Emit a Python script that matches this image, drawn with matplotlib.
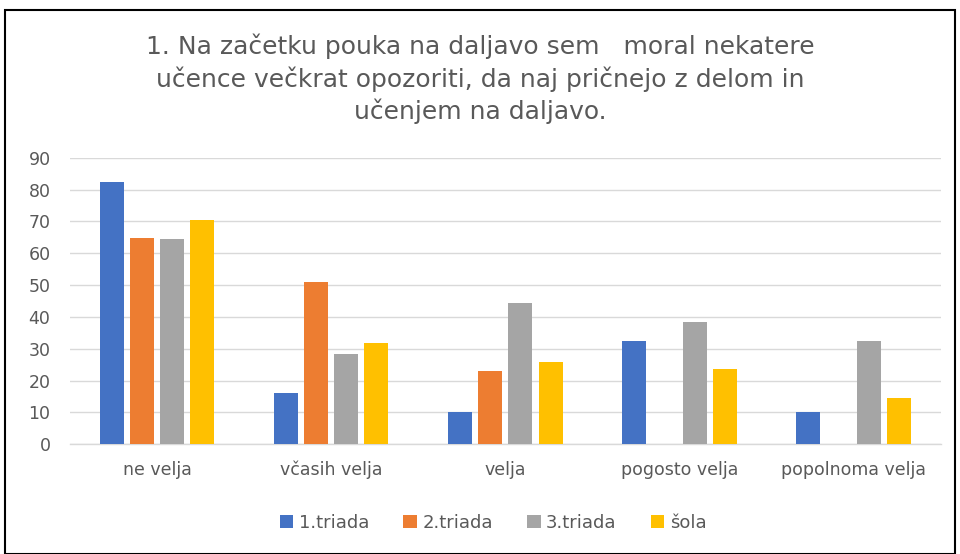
import numpy as np
import matplotlib.pyplot as plt
from matplotlib.patches import Rectangle

# data
categories = ['ne velja', 'včasih velja', 'velja', 'pogosto velja', 'popolnoma velja']
series_names = ['1.triada', '2.triada', '3.triada', 'šola']
triada1 = [82.3, 16.2, 10.2, 32.5, 10.2]
triada2 = [64.9, 51.1, 22.9, 0, 0]
triada3 = [64.4, 28.3, 44.5, 38.5, 32.5]
sola = [70.3, 31.9, 25.9, 23.5, 14.4]
colors = ['#4472C4', '#ED7D31', '#A5A5A5', '#FFC000']
title = ('1. Na začetku pouka na daljavo sem   moral nekatere\n'
         'učence večkrat opozoriti, da naj pričnejo z delom in\n'
         'učenjem na daljavo.')

W, H = 960, 554
fig = plt.figure(figsize=(W / 100, H / 100), dpi=100)
ax = fig.add_axes([70 / W, 1 - 444.3 / H, (940.7 - 70) / W, (444.3 - 157.7) / H])

x = np.arange(len(categories))
step = 0.173
width = 0.138
values = [triada1, triada2, triada3, sola]
for i, (vals, name, c) in enumerate(zip(values, series_names, colors)):
    ax.bar(x + (i - 1.5) * step, vals, width, color=c, label=name, zorder=3)

ax.set_xlim(-0.5, len(categories) - 0.5)
ax.set_ylim(0, 90)
ax.set_yticks(range(0, 91, 10))
ax.set_xticks(x)
ax.set_xticklabels(categories)
ax.grid(axis='y', color='#d9d9d9', linewidth=1, zorder=0)
for s in ['top', 'right', 'left']:
    ax.spines[s].set_visible(False)
ax.spines['bottom'].set_color('#d9d9d9')
ax.spines['bottom'].set_linewidth(1)
ax.tick_params(axis='both', length=0, colors='#595959', labelsize=12.5)
ax.tick_params(axis='x', pad=12)
ax.tick_params(axis='y', pad=14)

fig.text(0.5, 1 - 79 / H, title, ha='center', va='center', fontsize=18,
         color='#595959', linespacing=1.33)

fig.legend(loc='center', bbox_to_anchor=(493 / W, 1 - 523 / H), ncol=4, frameon=False,
           fontsize=13, labelcolor='#595959', handlelength=0.75, handleheight=0.75,
           handletextpad=0.3, columnspacing=1.9)

fig.patches.append(Rectangle((5 / W, 0.5 / H), 950 / W, (H - 10.5) / H,
                             transform=fig.transFigure, fill=False,
                             edgecolor='black', linewidth=1.5))

fig.savefig('out.png', dpi=100)
